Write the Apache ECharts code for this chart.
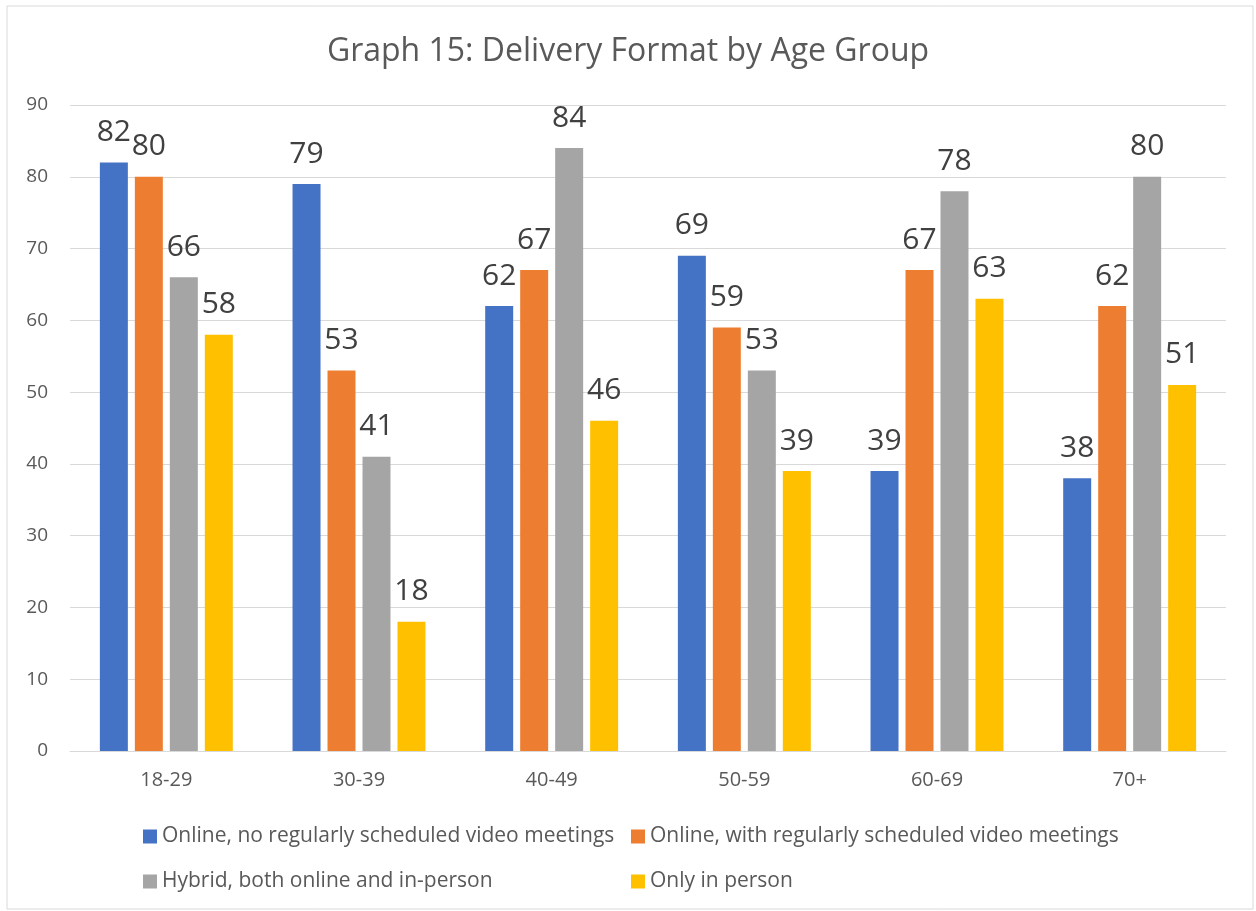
<!DOCTYPE html>
<html>
<head>
<meta charset="utf-8">
<script src="https://cdn.jsdelivr.net/npm/echarts@6/dist/echarts.min.js"></script>
<style>
  html, body { margin: 0; padding: 0; background: #fff; }
  #chart { width: 1256px; height: 911px; }
</style>
</head>
<body>
<div id="chart"></div>
<script>
const categories = ['18-29', '30-39', '40-49', '50-59', '60-69', '70+'];
const seriesNames = [
  'Online, no regularly scheduled video meetings',
  'Online, with regularly scheduled video meetings',
  'Hybrid, both online and in-person',
  'Only in person'
];
const onlineNoVideo = [82, 79, 62, 69, 39, 38];
const onlineVideo = [80, 53, 67, 59, 67, 62];
const hybrid = [66, 41, 84, 53, 78, 80];
const inPerson = [58, 18, 46, 39, 63, 51];
const colors = ['#4472c4', '#ed7d31', '#a5a5a5', '#ffc000'];

const font = '"Open Sans", sans-serif';
const myChart = echarts.init(document.getElementById('chart'));

const mkSeries = (name, data, color) => ({
  name,
  type: 'bar',
  data,
  barGap: '25%',
  barCategoryGap: '31%',
  itemStyle: { color },
  label: {
    show: true,
    position: 'top',
    distance: 15,
    color: '#404040',
    fontSize: 30,
    fontFamily: font
  }
});

const legendBase = {
  orient: 'vertical',
  top: 826,
  padding: 0,
  itemWidth: 14,
  itemHeight: 14,
  itemGap: 24,
  icon: 'rect',
  textStyle: { color: '#595959', fontSize: 21, fontFamily: font }
};

myChart.setOption({
  animation: false,
  backgroundColor: '#fff',
  textStyle: { fontFamily: font },
  title: {
    text: 'Graph 15: Delivery Format by Age Group',
    left: 'center',
    top: 31,
    textStyle: { color: '#595959', fontSize: 32, fontWeight: 'normal', fontFamily: font }
  },
  graphic: [{
    type: 'rect',
    shape: { x: 7, y: 6, width: 1246, height: 903 },
    style: { fill: 'none', stroke: '#d9d9d9', lineWidth: 1 },
    silent: true
  }],
  grid: { left: 70, right: 30, top: 105, bottom: 160 },
  xAxis: {
    type: 'category',
    data: categories,
    axisLine: { lineStyle: { color: '#d9d9d9', width: 1 } },
    axisTick: { show: false },
    axisLabel: { color: '#595959', fontSize: 20, margin: 19, fontFamily: font }
  },
  yAxis: {
    type: 'value',
    min: 0,
    max: 90,
    interval: 10,
    axisLine: { show: false },
    axisTick: { show: false },
    splitLine: { lineStyle: { color: '#d9d9d9', width: 1 } },
    axisLabel: { color: '#595959', fontSize: 19, margin: 22, fontFamily: font }
  },
  legend: [
    Object.assign({}, legendBase, { data: [seriesNames[0], seriesNames[2]], left: 143 }),
    Object.assign({}, legendBase, { data: [seriesNames[1], seriesNames[3]], left: 631 })
  ],
  series: [
    mkSeries(seriesNames[0], onlineNoVideo, colors[0]),
    mkSeries(seriesNames[1], onlineVideo, colors[1]),
    mkSeries(seriesNames[2], hybrid, colors[2]),
    mkSeries(seriesNames[3], inPerson, colors[3])
  ]
});
</script>
</body>
</html>
